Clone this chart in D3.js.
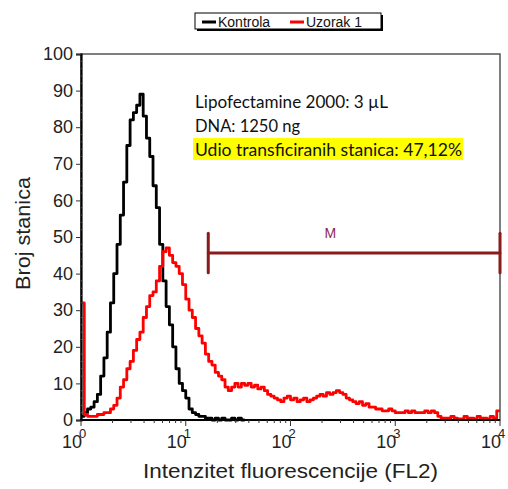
<!DOCTYPE html>
<html>
<head>
<meta charset="utf-8">
<script src="https://cdn.jsdelivr.net/npm/d3@7"></script>
<style>
  body { margin: 0; background: #fff; }
  svg { display: block; }
</style>
</head>
<body>
<script>
// histogram channels, 32 per decade, starting at 10^0
var binsPerDecade = 32;

var kontrola = [1, 2, 3, 3.5, 5, 7, 12, 17, 24, 32,
  40, 48, 56, 65, 75, 82, 84, 86, 89, 83,
  77, 72, 64, 58, 48, 38, 31, 26, 20, 14,
  10, 8, 6, 3, 2, 1.5, 1, 1, 0.5, 0.5,
  0, 0.5, 0, 0.5, 0, 0, 0.5, 0, 0.5, 0];

var uzorak = [32, 1.5, 1, 1, 1, 1.5, 1.5, 2, 2, 3,
  4, 6, 9, 11, 14, 16, 19, 22, 24, 28,
  31, 34, 35, 38, 42, 46, 47, 45, 43, 42,
  40, 37, 33, 30, 28, 25, 23, 21, 18, 16,
  15, 13, 12, 11, 9, 8, 9, 10, 9, 10,
  9.5, 10, 9, 9.5, 8.5, 9, 8, 7, 6.5, 6,
  5.5, 5, 6, 6.5, 5.5, 6, 5, 5.5, 6, 5,
  5.5, 6, 6.5, 7, 6.5, 7.5, 7, 7.5, 8, 7.5,
  7, 6, 5.5, 5, 4.5, 5, 4, 4.5, 3.5, 3.5,
  3, 3, 2.5, 2.5, 3, 2.5, 2, 2, 2, 2.5,
  2, 2.5, 2, 2, 2, 2.5, 2, 2.5, 2, 1,
  0.5, 0.5, 0.5, 1, 0.5, 0.3, 0.3, 1, 0.5, 0.5,
  0.3, 1, 0.5, 0.5, 0.3, 1, 0.5, 2.5];

var series = [
  {name: "Kontrola", values: kontrola, color: "#000"},
  {name: "Uzorak 1", values: uzorak, color: "#ff0000"}
];

var yTicks = [0, 10, 20, 30, 40, 50, 60, 70, 80, 90, 100];
var xTicks = [1, 10, 100, 1000, 10000];

// marker "M"
var markerLabel = "M";
var markerRange = [16.4, 10000];
var markerLevel = 45.6;

var infoLines = ["Lipofectamine 2000: 3 \u00b5L", "DNA: 1250 ng", "Udio transficiranih stanica: 47,12%"];
var infoWidths = [193, 105, 267];

var svg = d3.select("body").append("svg")
    .attr("width", 508)
    .attr("height", 489);

var margin = {top: 54, right: 8, bottom: 68, left: 81};
var width = 508 - margin.left - margin.right,
    height = 489 - margin.top - margin.bottom - 1;

var x = d3.scaleLog().domain([1, 10000]).range([margin.left, margin.left + width]);
var y = d3.scaleLinear().domain([0, 100]).range([margin.top + height, margin.top]);

var font = "Liberation Sans, Arial, sans-serif";

// frame
svg.append("rect")
    .attr("x", x(1)).attr("y", y(100))
    .attr("width", x(10000) - x(1)).attr("height", y(0) - y(100))
    .attr("fill", "none").attr("stroke", "#555").attr("stroke-width", 1.5);

// histogram lines
var line = d3.line()
    .curve(d3.curveStepAfter)
    .x(function(d) { return x(d.ch); })
    .y(function(d) { return y(d.v); });

series.forEach(function(s) {
  var pts = s.values.map(function(v, i) { return {ch: Math.pow(10, i / binsPerDecade), v: v}; });
  var n = s.values.length;
  pts.push({ch: Math.pow(10, n / binsPerDecade), v: s.values[n - 1]});
  svg.append("path")
      .datum(pts)
      .attr("d", line)
      .attr("fill", "none")
      .attr("stroke", s.color)
      .attr("stroke-width", 2.8)
      .attr("stroke-linejoin", "round");
});

// y axis
var yAxis = svg.append("g")
    .attr("transform", "translate(" + x(1) + ",0)")
    .call(d3.axisLeft(y).tickValues(yTicks).tickSize(5).tickPadding(3));
yAxis.select(".domain").attr("stroke", "#000").attr("stroke-width", 2.2);
yAxis.selectAll(".tick line").attr("stroke", "#333");
yAxis.selectAll("text")
    .attr("font-family", font)
    .attr("font-size", 18).attr("fill", "#222");

// minor y ticks
svg.append("g").selectAll("line")
    .data(d3.range(2, 100, 2).filter(function(v) { return v % 10 != 0; }))
    .enter().append("line")
    .attr("x1", x(1)).attr("x2", x(1) + 2)
    .attr("y1", function(d) { return y(d); }).attr("y2", function(d) { return y(d); })
    .attr("stroke", "#666").attr("stroke-width", 0.8);

// x axis
var minor = [];
[1, 10, 100, 1000].forEach(function(dec) {
  for (var k = 2; k <= 9; k++) minor.push(dec * k);
});
svg.append("line")
    .attr("x1", x(1) - 1).attr("x2", x(10000))
    .attr("y1", y(0)).attr("y2", y(0))
    .attr("stroke", "#000").attr("stroke-width", 2.2);
svg.append("g").selectAll("line")
    .data(minor).enter().append("line")
    .attr("x1", function(d) { return x(d); }).attr("x2", function(d) { return x(d); })
    .attr("y1", y(0)).attr("y2", y(0) + 3)
    .attr("stroke", "#333").attr("stroke-width", 1);
svg.append("g").selectAll("line")
    .data(xTicks).enter().append("line")
    .attr("x1", function(d) { return x(d); }).attr("x2", function(d) { return x(d); })
    .attr("y1", y(0)).attr("y2", y(0) + 6)
    .attr("stroke", "#333").attr("stroke-width", 1);

svg.append("g").selectAll("text")
    .data(xTicks).enter().append("text")
    .attr("x", function(d) { return x(d) + 1; })
    .attr("y", 448)
    .attr("text-anchor", "end")
    .attr("font-family", font)
    .attr("font-size", 18).attr("fill", "#222")
    .text("10");
svg.append("g").selectAll("text")
    .data(xTicks).enter().append("text")
    .attr("x", function(d) { return x(d) - 2; })
    .attr("y", 438)
    .attr("font-family", font)
    .attr("font-size", 13).attr("fill", "#222")
    .text(function(d) { return Math.round(Math.log10(d)); });

// axis titles
svg.append("text")
    .attr("x", 143).attr("y", 478)
    .attr("textLength", 295).attr("lengthAdjust", "spacingAndGlyphs")
    .attr("font-family", font)
    .attr("font-size", 21).attr("fill", "#222")
    .text("Intenzitet fluorescencije (FL2)");
svg.append("text")
    .attr("transform", "translate(30,290) rotate(-90)")
    .attr("textLength", 113).attr("lengthAdjust", "spacingAndGlyphs")
    .attr("font-family", font)
    .attr("font-size", 20).attr("fill", "#222")
    .text("Broj stanica");

// marker bar
var mColor = "#8b1a1a";
var mg = svg.append("g").attr("stroke", mColor).attr("stroke-width", 3).attr("stroke-linecap", "round");
mg.append("line")
    .attr("x1", x(markerRange[0])).attr("x2", x(markerRange[1]))
    .attr("y1", y(markerLevel)).attr("y2", y(markerLevel));
markerRange.forEach(function(r) {
  mg.append("line")
      .attr("x1", x(r)).attr("x2", x(r))
      .attr("y1", y(markerLevel + 5.4)).attr("y2", y(markerLevel - 5.4));
});
svg.append("text")
    .attr("x", x(markerRange[0]) + 122)
    .attr("y", y(markerLevel) - 15)
    .attr("text-anchor", "middle")
    .attr("font-family", font)
    .attr("font-size", 14).attr("fill", "#8b2a55")
    .text(markerLabel);

// info text
svg.append("rect")
    .attr("x", 193).attr("y", 138).attr("width", 270).attr("height", 22)
    .attr("fill", "#ffff00");
svg.append("g").selectAll("text")
    .data(infoLines).enter().append("text")
    .attr("x", 195)
    .attr("y", function(d, i) { return 108 + i * 24; })
    .attr("textLength", function(d, i) { return infoWidths[i]; })
    .attr("lengthAdjust", "spacingAndGlyphs")
    .attr("font-family", "Lato, Open Sans, sans-serif")
    .attr("font-size", 17.5).attr("fill", "#111")
    .text(function(d) { return d; });

// legend
var lg = svg.append("g");
lg.append("rect").attr("x", 197).attr("y", 15).attr("width", 186).attr("height", 16).attr("fill", "#000");
lg.append("rect").attr("x", 195).attr("y", 13).attr("width", 186).attr("height", 16)
    .attr("fill", "#fff").attr("stroke", "#000").attr("stroke-width", 1);
var legX = [202, 290];
series.forEach(function(s, i) {
  lg.append("line")
      .attr("x1", legX[i]).attr("x2", legX[i] + 14)
      .attr("y1", 22).attr("y2", 22)
      .attr("stroke", s.color).attr("stroke-width", 3);
  lg.append("text")
      .attr("x", legX[i] + 16).attr("y", 26.5)
      .attr("font-family", font)
      .attr("font-size", 14).attr("fill", "#111")
      .text(s.name);
});
</script>
</body>
</html>
